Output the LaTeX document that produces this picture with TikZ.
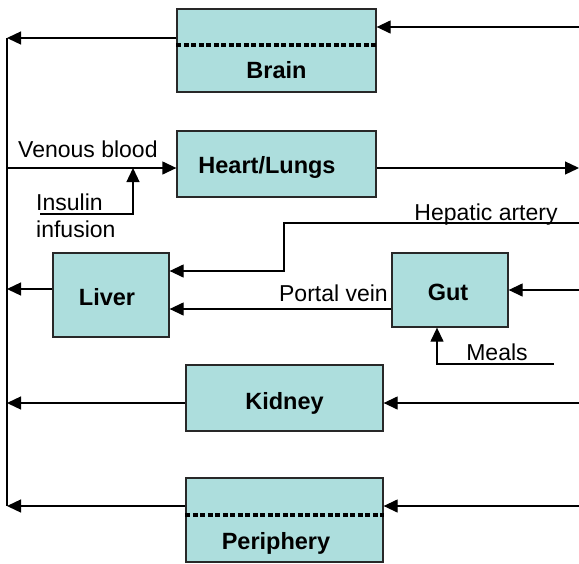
\documentclass[tikz,border=0pt]{standalone}
\usepackage{fontspec}
\setmainfont{Liberation Sans}
\usetikzlibrary{arrows.meta}
\definecolor{boxfill}{RGB}{173,222,221}
\definecolor{boxline}{RGB}{40,40,40}
\begin{document}
\begin{tikzpicture}[x=1pt,y=-1pt,
  box/.style={draw=boxline,fill=boxfill,line width=1.3pt,inner sep=0pt,rectangle},
  boxtext/.style={font=\fontsize{23.5}{26}\selectfont\bfseries,inner sep=0pt},
  lbl/.style={font=\fontsize{23}{26}\selectfont,inner sep=0pt},
  conn/.style={line width=1.3pt},
  arr/.style={line width=1.3pt,-{Triangle[length=14pt,width=13pt]}},
  dotline/.style={line width=3.4pt,dash pattern=on 5pt off 2.5pt}]
\useasboundingbox (0,0) rectangle (579,563);
% boxes
\node[box,minimum width=199pt,minimum height=83pt] (brain) at (276.5,50.5) {};
\node[box,minimum width=199pt,minimum height=66pt] (heart) at (276.5,164) {};
\node[box,minimum width=116pt,minimum height=84pt] (liver) at (111,295) {};
\node[box,minimum width=116pt,minimum height=74pt] (gut) at (450,290) {};
\node[box,minimum width=197pt,minimum height=66pt] (kidney) at (284.5,398) {};
\node[box,minimum width=197pt,minimum height=84pt] (periph) at (284.5,520) {};
% dotted separators
\draw[dotline] (brain.west |- 0,45) -- (brain.east |- 0,45);
\draw[dotline] (periph.west |- 0,515) -- (periph.east |- 0,515);
% box texts
\node[boxtext] (tbrain) at (276.5,70) {Brain};
\node[boxtext] (theart) at (267,167) {Heart/Lungs};
\node[boxtext] (tliver) at (107,297) {Liver};
\node[boxtext] (tgut) at (448,292) {Gut};
\node[boxtext] (tkidney) at (284.5,403) {Kidney};
\node[boxtext] (tperiph) at (276,543) {Periphery};
% bus coordinates
\coordinate (busTop) at (7,38);
\coordinate (busBot) at (7,506);
\coordinate (busVen) at (7,168);
\coordinate (busLiv) at (7,289);
\coordinate (busKid) at (7,403);
\draw[conn] (busTop) -- (busBot);
% right side coordinates
\coordinate (rBrain) at (579,27);
\coordinate (rHeart) at (579,168);
\coordinate (rHep) at (579,223);
\coordinate (rGut) at (579,290);
\coordinate (rKid) at (579,403);
\coordinate (rPer) at (579,506);
% brain
\draw[arr] (rBrain) -- (brain.east |- rBrain);
\draw[arr] (brain.west |- busTop) -- (busTop);
% heart
\draw[arr] (busVen) -- (heart.west |- busVen);
\draw[arr] (heart.east |- rHeart) -- (rHeart);
\node[lbl,anchor=south west] (lven) at (18,158) {Venous blood};
% insulin
\coordinate (insStart) at (40,214);
\coordinate (insCorner) at (133,214);
\coordinate (insTip) at (133,168);
\draw[arr] (insStart) -- (insCorner) -- (insTip);
\node[lbl,anchor=west] (lins1) at (36,202) {Insulin};
\node[lbl,anchor=west] (lins2) at (36,229) {infusion};
% hepatic artery
\coordinate (hepCorner1) at (284,223);
\coordinate (hepCorner2) at (284,271);
\draw[arr] (rHep) -- (hepCorner1) -- (hepCorner2) -- (liver.east |- hepCorner2);
\node[lbl] (lhep) at (486,215) {Hepatic artery};
% liver out
\draw[arr] (liver.west |- busLiv) -- (busLiv);
% portal vein
\coordinate (portal) at (392,309);
\draw[arr] (gut.west |- portal) -- (liver.east |- portal);
\node[lbl,anchor=east] (lportal) at (388,293) {Portal vein};
% gut
\draw[arr] (rGut) -- (gut.east |- rGut);
\coordinate (mealStart) at (554,364);
\coordinate (mealCorner) at (437,364);
\draw[arr] (mealStart) -- (mealCorner) -- (gut.south -| mealCorner);
\node[lbl] (lmeals) at (497,352) {Meals};
% kidney
\draw[arr] (rKid) -- (kidney.east |- rKid);
\draw[arr] (kidney.west |- busKid) -- (busKid);
% periphery
\draw[arr] (rPer) -- (periph.east |- rPer);
\draw[arr] (periph.west |- busBot) -- (busBot);
\end{tikzpicture}
\end{document}
